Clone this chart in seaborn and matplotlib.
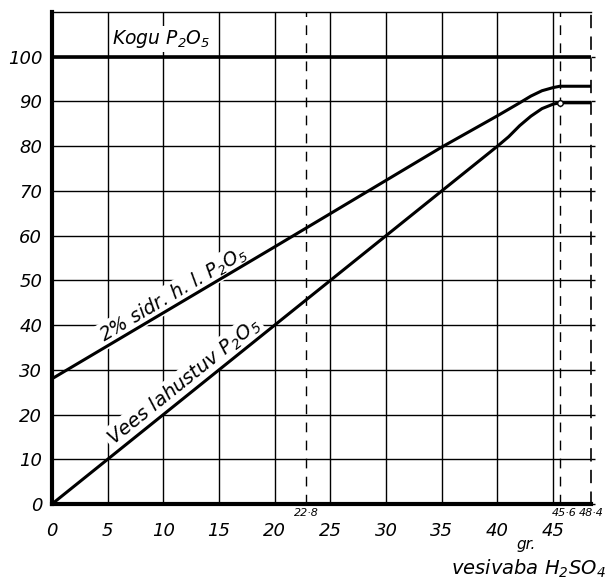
import numpy as np
import matplotlib
matplotlib.use("Agg")
import matplotlib.pyplot as plt
import seaborn as sns

# --- andmed (loetud jooniselt) ---
kogu_x = [0, 48.4]
kogu_y = [100, 100]

sidr_x = [0, 20, 35, 40, 42, 43, 44, 45, 45.6, 48.4]
sidr_y = [28, 57.5, 79.8, 86.8, 89.7, 91.2, 92.4, 93.1, 93.4, 93.4]

vees_x = [0, 40, 41, 42, 43, 44, 45, 45.6, 48.4]
vees_y = [0, 80, 82.1, 84.6, 86.7, 88.4, 89.4, 89.7, 89.7]

x_ticks = [0, 5, 10, 15, 20, 25, 30, 35, 40, 45]
y_ticks = [0, 10, 20, 30, 40, 50, 60, 70, 80, 90, 100]
extra_x = [22.8, 45.6, 48.4]
extra_labels = ["22·8", "45·6", "48·4"]

# =========================
# Stiil
# =========================
sns.set_style("white")
plt.rcParams['font.family'] = ['DejaVu Sans']
plt.rcParams['text.color'] = 'black'
plt.rcParams['xtick.color'] = 'black'
plt.rcParams['ytick.color'] = 'black'
plt.rcParams['axes.labelcolor'] = 'black'
plt.rcParams['mathtext.fontset'] = 'custom'
plt.rcParams['mathtext.rm'] = 'DejaVu Sans:italic'
plt.rcParams['mathtext.it'] = 'DejaVu Sans:italic'
plt.rcParams['mathtext.default'] = 'rm'

fig = plt.figure(figsize=(6.08, 5.8), dpi=100)
ax = fig.add_axes([52/608, 76/580, (591-52)/608, (504-12)/580])

ax.set_xlim(0, 48.4)
ax.set_ylim(0, 110)
ax.set_axisbelow(True)

ax.set_xticks(x_ticks)
ax.set_yticks(y_ticks)
ax.set_xticklabels([str(v) for v in x_ticks], fontstyle='italic', fontsize=13)
ax.set_yticklabels([str(v) for v in y_ticks], fontstyle='italic', fontsize=13)
ax.grid(True, color='black', lw=1.0)
ax.tick_params(axis='both', direction='out', length=4, width=1.0, color='black', pad=4)
ax.tick_params(axis='y', right=True, length=3)
ax.tick_params(axis='x', pad=9)

for x in extra_x[:2]:
    ax.axvline(x, color='black', lw=1.0, dashes=(7, 6), zorder=1)

ax.spines['left'].set_linewidth(3)
ax.spines['bottom'].set_linewidth(3)
ax.spines['top'].set_linewidth(1.0)
ax.spines['right'].set_linewidth(1.2)
ax.spines['right'].set_linestyle((0, (7, 6)))
for s in ax.spines.values():
    s.set_color('black')

# --- jooned ---
sns.lineplot(x=kogu_x, y=kogu_y, ax=ax, color='black', lw=2.6, zorder=3)
sns.lineplot(x=sidr_x, y=sidr_y, ax=ax, color='black', lw=2.2, zorder=3)
sns.lineplot(x=vees_x, y=vees_y, ax=ax, color='black', lw=2.2, zorder=3)
ax.plot([vees_x[-2]], [vees_y[-2]], 'o', ms=4, mfc='white', mec='black', mew=1, zorder=4)
ax.set_xlabel("")
ax.set_ylabel("")

# --- tekstid ---
box = dict(fc='white', ec='none', pad=1.5)
ax.text(5.4, 101.6, r"Kogu P$_2$O$_5$", fontsize=13.5, fontstyle='italic',
        ha='left', va='bottom', bbox=box, zorder=2.5)

ang_sidr = np.degrees(np.arctan((sidr_y[2] - sidr_y[0]) / (sidr_x[2] - sidr_x[0])))
ang_vees = np.degrees(np.arctan((vees_y[1] - vees_y[0]) / (vees_x[1] - vees_x[0])))
ax.text(10.95, 46.8, r"2% sidr. h. l. P$_2$O$_5$", fontsize=13.5, fontstyle='italic',
        ha='center', va='center', rotation=ang_sidr, rotation_mode='anchor',
        transform_rotates_text=True, bbox=box, zorder=2.5)
ax.text(11.85, 27.3, r"Vees lahustuv P$_2$O$_5$", fontsize=14, fontstyle='italic',
        ha='center', va='center', rotation=ang_vees, rotation_mode='anchor',
        transform_rotates_text=True, bbox=box, zorder=2.5)

# väikesed lisasildid telje all (tõstetud)
trans = ax.get_xaxis_transform()
shift = [0.0, 0.4, 0.0]
for x, lab, dx in zip(extra_x, extra_labels, shift):
    ax.text(x + dx, -0.008, lab, transform=trans, fontsize=8, fontstyle='italic',
            ha='center', va='top', clip_on=False)

fig.text(526/608, 1 - 545/580, "gr.", fontsize=11, fontstyle='italic', ha='center', va='center')
fig.text(606/608, 1 - 569/580, r"vesivaba H$_2$SO$_4$", fontsize=14, fontstyle='italic',
         ha='right', va='center')

plt.savefig("out.png", dpi=100)
plt.close()
